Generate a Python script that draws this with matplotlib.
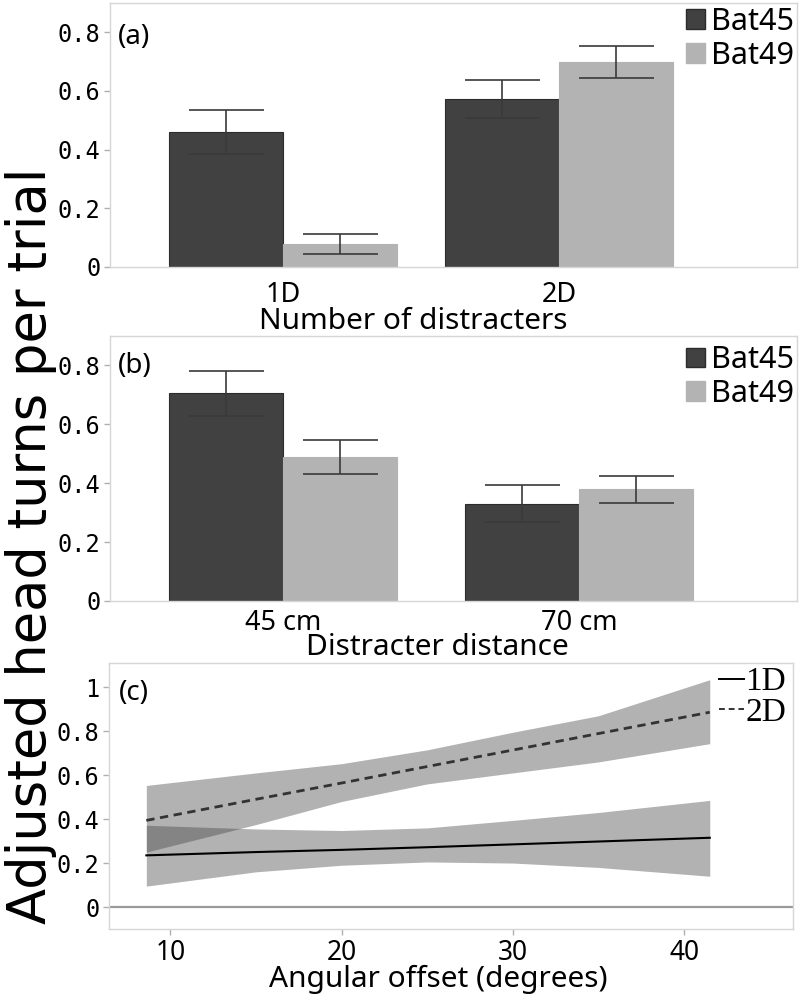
import matplotlib
matplotlib.use('Agg')
import matplotlib.pyplot as plt
from matplotlib.patches import Patch

plt.rcParams['font.family'] = ['Noto Sans', 'DejaVu Sans']

W, H = 800, 997

DARK = '#414141'
LIGHT = '#b3b3b3'
SPINE = '#d6d6d6'
TICKC = '#b0b0b0'

# panel (a)
cats_a = ['1D', '2D']
bat45_a = [0.46, 0.573]
bat45_a_err = [0.075, 0.066]
bat49_a = [0.079, 0.699]
bat49_a_err = [0.034, 0.055]

# panel (b)
cats_b = ['45 cm', '70 cm']
bat45_b = [0.705, 0.331]
bat45_b_err = [0.076, 0.063]
bat49_b = [0.489, 0.379]
bat49_b_err = [0.057, 0.047]

series = ['Bat45', 'Bat49']

# panel (c) fitted lines and confidence bands
offset_deg = [8.6, 15, 20, 25, 30, 35, 41.5]
fit_1d = [0.235, 0.25, 0.26, 0.272, 0.285, 0.298, 0.315]
lo_1d = [0.095, 0.16, 0.19, 0.205, 0.20, 0.18, 0.14]
hi_1d = [0.372, 0.355, 0.348, 0.36, 0.394, 0.43, 0.485]
fit_2d = [0.394, 0.49, 0.564, 0.639, 0.714, 0.789, 0.886]
lo_2d = [0.25, 0.375, 0.48, 0.56, 0.61, 0.66, 0.743]
hi_2d = [0.553, 0.61, 0.652, 0.715, 0.795, 0.87, 1.034]
lines_c = ['1D', '2D']


def px_axes(fig, l, t, r, b):
    return fig.add_axes([l / W, 1 - b / H, (r - l) / W, (b - t) / H])


def style_frame(ax):
    for s in ax.spines.values():
        s.set_color(SPINE)
        s.set_linewidth(1.0)
    ax.tick_params(axis='y', length=4, width=1, color=TICKC, pad=3,
                   labelsize=17)
    for lab in ax.get_yticklabels():
        lab.set_family('DejaVu Sans Mono')


def bar_panel(ax, cats, v45, e45, v49, e49, w, xlim, tagy, xlabel, lab_xy, tickpad, legtop):
    x = list(range(len(cats)))
    ekw = dict(ecolor='#3a3a3a', elinewidth=1.2, capsize=27, capthick=1.2)
    ax.bar([i - w / 2 for i in x], v45, w, yerr=e45, color=DARK,
           edgecolor='#2c2c2c', linewidth=0.8, error_kw=ekw, zorder=2)
    ax.bar([i + w / 2 for i in x], v49, w, yerr=e49, color=LIGHT,
           edgecolor=LIGHT, linewidth=0.8, error_kw=ekw, zorder=2)
    ax.set_xlim(*xlim)
    ax.set_ylim(0, 0.9)
    ax.set_yticks([0, 0.2, 0.4, 0.6, 0.8])
    ax.set_yticklabels(['0', '0.2', '0.4', '0.6', '0.8'])
    ax.set_xticks(x)
    ax.set_xticklabels(cats, fontsize=19.5)
    ax.tick_params(axis='x', length=0, pad=tickpad)
    style_frame(ax)
    ax.text(0.011, tagy, ax_tag[ax], transform=ax.transAxes, fontsize=20,
            ha='left', va='center')
    ax.set_xlabel(xlabel, fontsize=21.5)
    ax.xaxis.set_label_coords(*lab_xy)
    ax.xaxis.label.set_va('center')
    handles = [Patch(facecolor=DARK, edgecolor='#2c2c2c'),
               Patch(facecolor=LIGHT, edgecolor=LIGHT)]
    ax.legend(handles, series, loc='upper right', bbox_to_anchor=(0.995, legtop),
              frameon=False, fontsize=22, handlelength=0.62, handleheight=0.62,
              handletextpad=0.18, labelspacing=0.12, borderpad=0, borderaxespad=0)


fig = plt.figure(figsize=(W / 100, H / 100), dpi=100)
fig.patch.set_facecolor('white')

ax_a = px_axes(fig, 110, 3, 797, 267)
ax_b = px_axes(fig, 110, 336, 797, 601)
ax_c = px_axes(fig, 109, 663, 793, 929)
ax_tag = {ax_a: '(a)', ax_b: '(b)', ax_c: '(c)'}

bar_panel(ax_a, cats_a, bat45_a, bat45_a_err, bat49_a, bat49_a_err, 0.413,
          (-0.627, 1.862), 0.871, 'Number of distracters', (0.441, -0.208), 10, 0.985)
bar_panel(ax_b, cats_b, bat45_b, bat45_b_err, bat49_b, bat49_b_err, 0.385,
          (-0.584, 1.736), 0.887, 'Distracter distance', (0.476, -0.177), 6, 0.965)

# panel (c)
ax_c.fill_between(offset_deg, lo_1d, hi_1d, color='#404040', alpha=0.4, lw=0, zorder=1)
ax_c.fill_between(offset_deg, lo_2d, hi_2d, color='#404040', alpha=0.4, lw=0, zorder=1)
l1, = ax_c.plot(offset_deg, fit_1d, color='black', lw=1.5, zorder=3)
l2, = ax_c.plot(offset_deg, fit_2d, color='#333333', lw=2, ls=(0, (3, 2)), zorder=3)
ax_c.axhline(0, color='#9a9a9a', lw=1.6, zorder=2)
ax_c.set_xlim(6.42, 46.36)
ax_c.set_ylim(-0.1, 1.11)
ax_c.set_yticks([0, 0.2, 0.4, 0.6, 0.8, 1])
ax_c.set_yticklabels(['0', '0.2', '0.4', '0.6', '0.8', '1'])
ax_c.set_xticks([10, 20, 30, 40])
ax_c.tick_params(axis='x', length=4, width=1, color=TICKC, pad=3, labelsize=19)
style_frame(ax_c)
ax_c.text(0.014, 0.887, '(c)', transform=ax_c.transAxes, fontsize=20,
          ha='left', va='center')
ax_c.set_xlabel('Angular offset (degrees)', fontsize=21.5)
ax_c.xaxis.set_label_coords(0.481, -0.19)
ax_c.xaxis.label.set_va('center')
leg_c = ax_c.legend([l1, l2], lines_c, loc='upper right', bbox_to_anchor=(0.99, 0.985),
                    frameon=False, prop={'family': 'Liberation Serif', 'size': 24},
                    handlelength=0.75, handletextpad=0.05, labelspacing=0.0,
                    borderpad=0, borderaxespad=0)
for ln in leg_c.get_lines():
    ln.set_linewidth(1.4)

fig.text(31 / W, 1 - 546 / H, 'Adjusted head turns per trial', rotation=90,
         fontsize=38, ha='center', va='center', family='DejaVu Sans')

fig.savefig('out.png', dpi=100, facecolor='white')
